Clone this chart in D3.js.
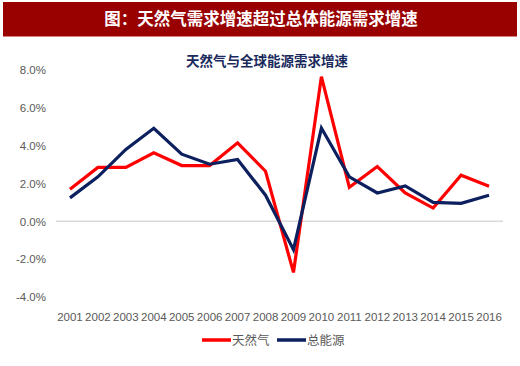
<!DOCTYPE html>
<html>
<head>
<meta charset="utf-8">
<script src="https://cdn.jsdelivr.net/npm/d3@7"></script>
<style>
  body { margin: 0; background: #fff; }
  #chart { width: 520px; height: 366px; }
  text { font-family: "Liberation Sans", Arial, "Noto Sans CJK SC", sans-serif; }
</style>
</head>
<body>
<div id="chart"></div>
<script>
var years = ["2001","2002","2003","2004","2005","2006","2007","2008","2009","2010","2011","2012","2013","2014","2015","2016"];
var gasGrowth = [1.7, 2.85, 2.85, 3.62, 2.95, 2.95, 4.15, 2.65, -2.7, 7.65, 1.8, 2.9, 1.5, 0.7, 2.44, 1.85];
var energyGrowth = [1.24, 2.35, 3.8, 4.92, 3.55, 3.02, 3.27, 1.38, -1.5, 4.93, 2.35, 1.5, 1.87, 1.0, 0.95, 1.38];
var yTicks = [-4, -2, 0, 2, 4, 6, 8];
var seriesNames = ["天然气", "总能源"];
var seriesColors = ["#ff0000", "#0c1f5e"];

var width = 520, height = 366;
var margin = {top: 70, left: 56, right: 17, bottom: 69};

var svg = d3.select("#chart")
    .append("svg")
    .attr("width", width)
    .attr("height", height);

// title bar
svg.append("rect")
    .attr("x", 3).attr("y", 2)
    .attr("width", 514).attr("height", 35)
    .attr("fill", "#990000");
svg.append("rect")
    .attr("x", 3).attr("y", 36)
    .attr("width", 514).attr("height", 1)
    .attr("fill", "#d98080");
svg.append("text")
    .attr("x", 261).attr("y", 25)
    .attr("text-anchor", "middle")
    .attr("fill", "#fff")
    .style("font-family", "'Noto Sans CJK SC', sans-serif")
    .style("font-weight", "bold")
    .style("font-size", "16.5px")
    .text("图：天然气需求增速超过总体能源需求增速");

svg.append("text")
    .attr("x", 267).attr("y", 66)
    .attr("text-anchor", "middle")
    .attr("fill", "#1b2a5c")
    .style("font-family", "'Noto Sans CJK SC', sans-serif")
    .style("font-weight", "bold")
    .style("font-size", "13.5px")
    .text("天然气与全球能源需求增速");

var xScale = d3.scaleBand()
    .domain(years)
    .range([margin.left, width - margin.right]);

var yScale = d3.scaleLinear()
    .domain([-4, 8])
    .range([297, 70]);

// zero line
svg.append("line")
    .attr("x1", margin.left).attr("x2", width - margin.right)
    .attr("y1", yScale(0)).attr("y2", yScale(0))
    .attr("stroke", "#d9d9d9")
    .attr("stroke-width", 1.5);

var yAxis = svg.append("g")
    .attr("transform", "translate(" + 49 + ",0)")
    .call(d3.axisLeft(yScale).tickValues(yTicks).tickSize(0).tickFormat(function(d) { return d.toFixed(1) + "%"; }));
yAxis.select(".domain").remove();
yAxis.selectAll("text")
    .attr("fill", "#595959")
    .style("font-size", "11.5px");

var xAxis = svg.append("g")
    .attr("transform", "translate(0," + 310 + ")")
    .call(d3.axisBottom(xScale).tickSize(0));
xAxis.select(".domain").remove();
xAxis.selectAll("text")
    .attr("fill", "#595959")
    .style("font-size", "11.5px");

var line = d3.line()
    .x(function(d, i) { return xScale(years[i]) + xScale.bandwidth() / 2; })
    .y(function(d) { return yScale(d); });

[gasGrowth, energyGrowth].forEach(function(s, i) {
    svg.append("path")
        .datum(s)
        .attr("d", line)
        .attr("fill", "none")
        .attr("stroke", seriesColors[i])
        .attr("stroke-width", 3.2)
        .attr("stroke-linejoin", "miter");
});

// legend
var legendX = [202, 277];
seriesNames.forEach(function(name, i) {
    svg.append("line")
        .attr("x1", legendX[i]).attr("x2", legendX[i] + 29)
        .attr("y1", 340).attr("y2", 340)
        .attr("stroke", seriesColors[i])
        .attr("stroke-width", 3.5);
    svg.append("text")
        .attr("x", legendX[i] + 30).attr("y", 345)
        .attr("fill", "#595959")
        .style("font-family", "'Noto Sans CJK SC', sans-serif")
        .style("font-size", "12.5px")
        .text(name);
});
</script>
</body>
</html>
